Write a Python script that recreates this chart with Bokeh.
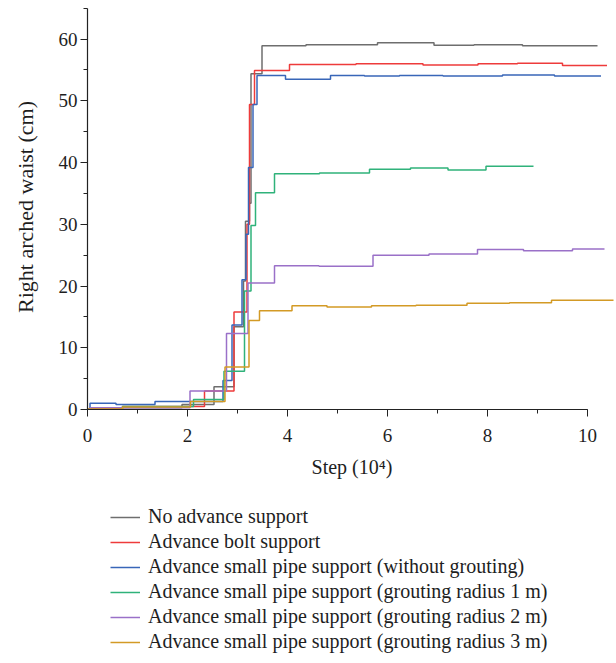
from bokeh.plotting import figure
from bokeh.layouts import column
from bokeh.models import Range1d, SingleIntervalTicker, Legend, LegendItem
from bokeh.embed import file_html
from bokeh.resources import INLINE

# ---- data (step x in 10^4, displacement in cm) ----
labels = [
    "No advance support",
    "Advance bolt support",
    "Advance small pipe support (without grouting)",
    "Advance small pipe support (grouting radius 1 m)",
    "Advance small pipe support (grouting radius 2 m)",
    "Advance small pipe support (grouting radius 3 m)",
]

x_none = [0, 0.05, 1.89, 2.53, 2.93, 3.12, 3.16, 3.24, 3.27, 3.49, 4.37, 5.80, 6.93, 7.73, 8.70, 10.20]
y_none = [0, 0.3, 0.8, 3.7, 13.4, 20.8, 30.5, 33.4, 54.4, 58.9, 59.1, 59.4, 59.0, 59.1, 58.9, 58.9]

x_bolt = [0, 0.05, 0.70, 2.34, 2.93, 3.19, 3.24, 3.34, 4.04, 5.37, 6.71, 7.81, 8.60, 9.50, 10.39]
y_bolt = [0, 0.2, 0.5, 3.0, 15.8, 30.0, 49.4, 54.9, 55.9, 56.0, 55.8, 56.0, 56.1, 55.7, 55.7]

x_pipe = [0, 0.05, 0.57, 1.35, 2.71, 2.89, 3.09, 3.17, 3.22, 3.31, 3.39, 3.96, 4.86, 5.54, 6.24, 7.11, 8.30, 9.34, 10.27]
y_pipe = [0, 1.0, 0.8, 1.3, 4.7, 13.7, 21.0, 28.4, 39.2, 49.4, 54.1, 53.5, 54.1, 54.0, 54.1, 54.0, 54.2, 54.0, 54.0]

x_g1 = [0, 0.70, 2.12, 2.73, 3.14, 3.27, 3.36, 3.74, 4.64, 5.64, 6.46, 7.21, 7.97, 8.92]
y_g1 = [0, 0.5, 1.6, 6.2, 19.2, 29.8, 35.1, 38.2, 38.3, 38.9, 39.1, 38.8, 39.4, 39.4]

x_g2 = [0, 0.05, 2.05, 2.78, 3.21, 3.74, 4.63, 5.71, 6.83, 7.80, 8.72, 9.70, 10.34]
y_g2 = [0, 0.3, 3.0, 12.3, 20.5, 23.3, 23.2, 25.0, 25.2, 25.9, 25.7, 26.0, 26.0]

x_g3 = [0, 0.70, 2.06, 2.75, 3.23, 3.44, 4.09, 4.79, 5.68, 6.57, 7.59, 8.44, 9.28, 10.52]
y_g3 = [0.1, 0.4, 1.3, 6.9, 14.4, 16.0, 16.8, 16.6, 16.8, 16.9, 17.2, 17.3, 17.7, 17.7]

colors = ["#6e6e6e", "#ee3b3b", "#3866b8", "#2fb27a", "#9a70c8", "#d39a25"]

series = [(x_none, y_none), (x_bolt, y_bolt), (x_pipe, y_pipe),
          (x_g1, y_g1), (x_g2, y_g2), (x_g3, y_g3)]

FONT = "Liberation Serif"
TXT = "#1e1e1e"

# ---------------- main chart ----------------
p = figure(width=616, height=490,
           x_range=Range1d(0, 10.58), y_range=Range1d(0, 65.6),
           output_backend="svg", toolbar_location=None,
           min_border_left=87, min_border_right=0,
           min_border_top=4, min_border_bottom=81)
p.outline_line_color = None
p.xgrid.visible = False
p.ygrid.visible = False
p.background_fill_color = "white"
p.border_fill_color = "white"

for (xs, ys), c in zip(series, colors):
    p.step(xs, ys, mode="after", line_color=c, line_width=1.5)

for ax in (p.xaxis[0], p.yaxis[0]):
    ax.axis_line_color = "#222222"
    ax.axis_line_width = 1.2
    ax.major_tick_line_color = "#222222"
    ax.minor_tick_line_color = "#222222"
    ax.major_tick_out = 7
    ax.major_tick_in = 0
    ax.minor_tick_out = 4
    ax.minor_tick_in = 0
    ax.major_label_text_font = FONT
    ax.major_label_text_font_size = "19px"
    ax.major_label_text_color = TXT
    ax.axis_label_text_font = FONT
    ax.axis_label_text_font_style = "normal"
    ax.axis_label_text_color = TXT

p.xaxis.ticker = SingleIntervalTicker(interval=2, num_minor_ticks=2)
p.xaxis.bounds = (0, 10)
p.xaxis.axis_label = "Step (10\u2074)"
p.xaxis.axis_label_text_font_size = "20px"
p.xaxis.major_label_standoff = 12
p.xaxis.axis_label_standoff = 11

p.yaxis.ticker = SingleIntervalTicker(interval=10, num_minor_ticks=2)
p.yaxis.bounds = (0, 65)
p.yaxis.axis_label = "Right arched waist (cm)"
p.yaxis.axis_label_text_font_size = "22px"
p.yaxis.major_label_standoff = 3
p.yaxis.axis_label_standoff = 18

# ---------------- legend panel ----------------
lg = figure(width=616, height=173, x_range=Range1d(0, 1), y_range=Range1d(0, 1),
            output_backend="svg", toolbar_location=None,
            x_axis_location=None, y_axis_location=None,
            min_border=0, min_border_left=0, min_border_right=0,
            min_border_top=0, min_border_bottom=0)
lg.outline_line_color = None
lg.xgrid.visible = False
lg.ygrid.visible = False
lg.background_fill_color = "white"
lg.border_fill_color = "white"

items = []
for lab, c in zip(labels, colors):
    # sample renderer kept outside the (invisible) frame; only its legend glyph shows
    r = lg.line(x=[5, 6], y=[5, 5], line_color=c, line_width=1.5)
    items.append(LegendItem(label=lab, renderers=[r]))

legend = Legend(items=items, location=(23, 10), orientation="vertical",
                border_line_alpha=0, background_fill_alpha=0,
                label_text_font=FONT, label_text_font_size="20px",
                label_text_color=TXT,
                glyph_width=30, glyph_height=20, label_height=20,
                spacing=2, padding=0, margin=0, label_standoff=8)
lg.add_layout(legend)

layout = column(p, lg, spacing=0)
open("out.html", "w").write(file_html(layout, INLINE))
